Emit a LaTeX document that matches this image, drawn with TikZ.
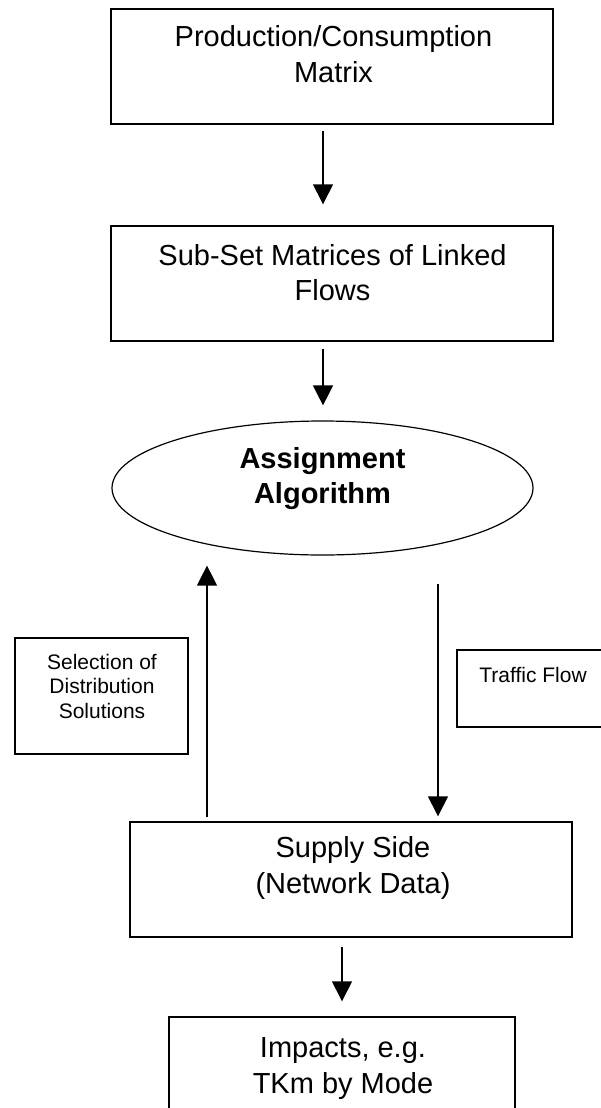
\documentclass[tikz,border=0pt]{standalone}
\usepackage{fontspec}
\setmainfont{Liberation Sans}
\usetikzlibrary{arrows.meta,shapes.geometric}
\tikzset{
  boxshape/.style={draw,line width=1.4pt,rectangle,inner sep=0pt},
  ellshape/.style={draw,line width=1.2pt,ellipse,inner sep=0pt},
  bigtext/.style={anchor=base,inner sep=0pt,font=\fontsize{29}{34}\selectfont},
  boldtext/.style={anchor=base,inner sep=0pt,font=\fontsize{29}{34}\selectfont\bfseries},
  smalltext/.style={anchor=base,inner sep=0pt,font=\fontsize{21}{24}\selectfont},
  arr/.style={line width=1.4pt,-{Triangle[width=20pt,length=20pt]}}
}
\begin{document}
\begin{tikzpicture}[x=1pt,y=-1pt]
\useasboundingbox (0,0) rectangle (601,1108);
% boxes
\node[boxshape,minimum width=442pt,minimum height=115pt] (b1) at (332,66.5) {};
\node[boxshape,minimum width=442pt,minimum height=115pt] (b2) at (332,283.5) {};
\node[ellshape,minimum width=421pt,minimum height=134pt] (ell) at (322.5,488) {};
\node[boxshape,minimum width=173pt,minimum height=116pt] (sel) at (101.5,696) {};
\node[boxshape,minimum width=173pt,minimum height=77pt] (tf) at (543.5,688.5) {};
\node[boxshape,minimum width=442pt,minimum height=115pt] (sup) at (351,879.5) {};
\node[boxshape,minimum width=346pt,minimum height=115pt] (imp) at (342,1074.5) {};
% texts
\node[bigtext] (t1a) at (333.5,47) {Production/Consumption};
\node[bigtext] (t1b) at (333.5,82) {Matrix};
\node[bigtext] (t2a) at (332.5,265) {Sub-Set Matrices of Linked};
\node[bigtext] (t2b) at (332.5,300) {Flows};
\node[boldtext] (t3a) at (322.5,468) {Assignment};
\node[boldtext] (t3b) at (322.5,503) {Algorithm};
\node[smalltext] (t4a) at (102,669) {Selection of};
\node[smalltext] (t4b) at (102,693) {Distribution};
\node[smalltext] (t4c) at (102,718) {Solutions};
\node[smalltext] (t5) at (533,682) {Traffic Flow};
\node[bigtext] (t6a) at (353,857) {Supply Side};
\node[bigtext] (t6b) at (353,893) {(Network Data)};
\node[bigtext] (t7a) at (343,1057) {Impacts, e.g.};
\node[bigtext] (t7b) at (343,1093) {TKm by Mode};
% arrows
\draw[arr] ([xshift=-9pt,yshift=-6pt]b1.south) -- ([xshift=-9pt,yshift=21pt]b2.north);
\draw[arr] ([xshift=-9pt,yshift=-7pt]b2.south) -- ([xshift=0.5pt,yshift=15pt]ell.north);
\draw[arr] ([xshift=-144pt,yshift=4pt]sup.north) -- ([xshift=-115.5pt,yshift=-10pt]ell.south);
\draw[arr] ([xshift=115.5pt,yshift=-28pt]ell.south) -- ([xshift=87pt,yshift=5pt]sup.north);
\draw[arr] ([xshift=-9pt,yshift=-9pt]sup.south) -- ([yshift=15pt]imp.north);
\end{tikzpicture}
\end{document}
